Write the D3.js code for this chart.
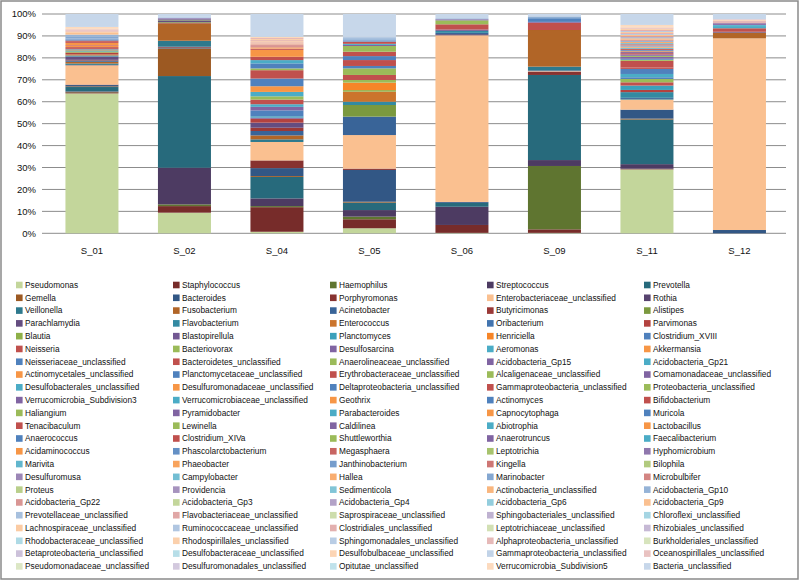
<!DOCTYPE html>
<html><head><meta charset="utf-8">
<script src="https://cdn.jsdelivr.net/npm/d3@7"></script>
<style>
body{margin:0;background:#fff}
svg{display:block}
text{font-family:"Liberation Sans",Arial,sans-serif;fill:#111}
</style>
</head><body>
<svg id="chart" width="800" height="581"></svg>
<script>
const categories = ["S_01","S_02","S_04","S_05","S_06","S_09","S_11","S_12"];

const seriesNames = [
"Pseudomonas","Staphylococcus","Haemophilus","Streptococcus","Prevotella",
"Gemella","Bacteroides","Porphyromonas","Enterobacteriaceae_unclassified","Rothia",
"Veillonella","Fusobacterium","Acinetobacter","Butyricimonas","Alistipes",
"Parachlamydia","Flavobacterium","Enterococcus","Oribacterium","Parvimonas",
"Blautia","Blastopirellula","Planctomyces","Henriciella","Clostridium_XVIII",
"Neisseria","Bacteriovorax","Desulfosarcina","Aeromonas","Akkermansia",
"Neisseriaceae_unclassified","Bacteroidetes_unclassified","Anaerolineaceae_unclassified","Acidobacteria_Gp15","Acidobacteria_Gp21",
"Actinomycetales_unclassified","Planctomycetaceae_unclassified","Erythrobacteraceae_unclassified","Alcaligenaceae_unclassified","Comamonadaceae_unclassified",
"Desulfobacterales_unclassified","Desulfuromonadaceae_unclassified","Deltaproteobacteria_unclassified","Gammaproteobacteria_unclassified","Proteobacteria_unclassified",
"Verrucomicrobia_Subdivision3","Verrucomicrobiaceae_unclassified","Geothrix","Actinomyces","Bifidobacterium",
"Haliangium","Pyramidobacter","Parabacteroides","Capnocytophaga","Muricola",
"Tenacibaculum","Lewinella","Caldilinea","Abiotrophia","Lactobacillus",
"Anaerococcus","Clostridium_XIVa","Shuttleworthia","Anaerotruncus","Faecalibacterium",
"Acidaminococcus","Phascolarctobacterium","Megasphaera","Leptotrichia","Hyphomicrobium",
"Marivita","Phaeobacter","Janthinobacterium","Kingella","Bilophila",
"Desulfuromusa","Campylobacter","Hallea","Marinobacter","Microbulbifer",
"Proteus","Providencia","Sedimenticola","Actinobacteria_unclassified","Acidobacteria_Gp10",
"Acidobacteria_Gp22","Acidobacteria_Gp3","Acidobacteria_Gp4","Acidobacteria_Gp6","Acidobacteria_Gp9",
"Prevotellaceae_unclassified","Flavobacteriaceae_unclassified","Saprospiraceae_unclassified","Sphingobacteriales_unclassified","Chloroflexi_unclassified",
"Lachnospiraceae_unclassified","Ruminococcaceae_unclassified","Clostridiales_unclassified","Leptotrichiaceae_unclassified","Rhizobiales_unclassified",
"Rhodobacteraceae_unclassified","Rhodospirillales_unclassified","Sphingomonadales_unclassified","Alphaproteobacteria_unclassified","Burkholderiales_unclassified",
"Betaproteobacteria_unclassified","Desulfobacteraceae_unclassified","Desulfobulbaceae_unclassified","Gammaproteobacteria_unclassified","Oceanospirillales_unclassified",
"Pseudomonadaceae_unclassified","Desulfuromonadales_unclassified","Opitutae_unclassified","Verrucomicrobia_Subdivision5","Bacteria_unclassified"
];

// relative abundance (%) per sample, one value per series in legend order
const S_01 = [
63.8,0.5,0.2,0.2,2.0,0.3,0.6,0.2,8.8,0.2,
0.6,0.8,0.6,0.3,0,1.5,0.5,0.5,0,0.8,
0.5,0,0.5,0.4,0.3,0.8,0,0,0,0.6,
0,0.3,0,0,0,1.0,0,0.4,0,0,
0,0,0,0.4,0,0,0,0,0,0.3,
0,0,0,0,0,0,0,0,0,0,
0.3,0,0,0,0,0,0.3,0,0,0,
0,0,0.3,0,0,0,0,0,0.8,0,
0,0,0,0,1.0,0,0,0,0,0.8,
0,0,0,0,0,0.6,0,0.5,0,0,
0,0,0,0.5,0,0,0,0.5,0,0,
0,0,0,0.6,5.9];
const S_02 = [
9.4,3.0,0.8,16.7,41.8,12.6,0.3,0.3,0,0.2,
2.7,7.9,0,0.3,0.3,0.8,0,0,0,0,
0.3,0.4,0,0,0,0,0,0.3,0,0,
0,0,0,0,0,0,0,0,0,0,
0,0,0,0,0,0,0,0,0,0,
0,0,0,0,0,0,0,0,0,0,
0,0,0,0,0,0,0,0,0,0,
0,0,0,0,0,0,0,0,0,0,
0,0,0,0,0,0,0,0,0,0,
0.3,0,0,0,0,0,0.3,0,0,0,
0,0,0.3,0,0,0,0,0,0,0,
0,0,0,0,1.0];
const S_04 = [
0.7,11.2,0.5,3.5,9.8,0.4,3.6,3.5,8.4,0,
1.2,1.8,2.0,1.5,0,2.3,0,0,0,1.8,
0,0.5,0.6,0,2.7,0,0,1.6,1.2,0,
0,2.1,1.5,0,2.0,2.6,3.5,3.8,0.8,0,
0,0,2.3,0,0,0,1.5,0,0,1.5,
0,0,0,3.1,0,0,0,0,0,0,
0,0,0,0,0,0,0,0.6,0,0,
0,0.6,0,0.5,0,0,0,0,0,0.5,
0,0,0,0,0,0.4,0,0,0,0.4,
0,0.5,0,0,0,0.5,0,0.5,0,0,
0,0.5,0,0.5,0,0,0,0.5,0,0,
0,0,0,0,10.4];
const S_05 = [
2.3,4.1,1.2,3.0,3.4,0.4,14.5,0.6,15.3,0,
0,0,8.4,0,5.3,0,1.5,4.6,0,0,
0.7,0,0,3.4,0,0,1.2,0,0,0,
0,2.3,3.0,0,0,0,1.1,2.7,0,0,
0,0,1.8,2.0,2.6,0.5,0.5,0,0,1.0,
0,0,0,0,0,0,0,0,0,0,
0,0,0,0,0,0,0.4,0,0,0,
0,0,0.4,0,0,0,0,0,0,0,
0,0,0,0,0.4,0,0,0,0,0,
0.5,0,0,0,0,0,0.5,0,0,0,
0,0,0,0,0,0,0,0,0,0,
0,0,0,0,10.4];
const S_06 = [
0.2,3.6,0,8.3,1.8,0,0.4,0,76.0,0.5,
0,0,0.6,0,0,0,0.9,0,0,0,
0,0.6,0,0,0,2.4,0,0,0,0,
0,0,1.8,0,0,0,0,0,0,0,
0,0,0,0,0,0,0,0,0,0,
0,0,0,0,0,0,0,0.5,0,0,
0,0,0,0,0,0,0,0,0,0,
0,0,0,0,0,0,0,0,0,0,
0,0,0,0,0,0,0,0,0,0,
0.5,0,0,0,0,0,0,0,0,0,
0,0,0,0,0,0,0,0,0,0,
0,0,0,0,1.9];
const S_09 = [
0.2,1.6,28.9,2.7,38.8,0,0,1.4,0.3,0.3,
1.8,16.7,0,0,0,0,0,0,0,0,
0,0,0,0,0,3.3,0,0.4,0,0,
1.6,0,0,0,0,0,0.5,0,0,0,
0,0,0,0,0,0,0,0,0,0,
0,0,0,0,0,0,0,0,0,0,
0,0,0,0,0,0,0,0,0,0,
0,0,0,0,0,0,0,0,0,0,
0,0,0,0,0,0,0,0,0,0,
0,0,0,0,0,0,0.5,0,0,0,
0,0,0,0,0,0,0,0,0,0,
0,0,0,0,1.0];
const S_11 = [
29.2,0.3,0,2.1,20.4,0.4,4.1,0,4.6,0,
0.3,0,0.5,0,0,0,2.6,0,0,1.0,
0,0,2.0,0,0,1.5,1.5,0,0,0,
0.8,0,0,0,1.5,0,2.3,0.6,0,0,
0,0,0,3.1,0.5,0,0,0,0.5,0,
0,0.8,0,0,0,0,0.5,0.6,0,0,
0,0.6,0,0.5,0,0.4,0.5,0.6,0,0,
0.5,0.5,0.5,0.6,0,0,0.5,0.6,0.5,0.5,
0,0,0,0.6,0.5,0.5,0,0,0,0.6,
0.4,0.4,0,0,0,0.5,0.4,0.5,0,0,
0,0.6,0,0.5,0,0,0,0.6,0,0,
0,0,0,0.6,5.0];
const S_12 = [
0,0,0,0,0,0,1.5,0,87.4,0,
0,2.6,0,0,0,0.4,0,0,0,0,
0,0,0,0,0,1.6,0,0,0.6,0,
0,0,0,0,0.5,0,0,0,0,0,
0.4,0,0,0,0,0,0,0,0,0,
0,0,0,0,0,0,0,0.4,0,0,
0,0,0,0.4,0,0,0,0,0,0,
0,0,0,0,0,0,0,0,0,0,
0,0,0,0,0,0,0,0,0,0,
0,0,0,0,0,0,0,0.5,0,0,
0,0,0,0.5,0,0,0,0.4,0,0.4,
0,0,0,0,2.4];

const sampleValues = [S_01,S_02,S_04,S_05,S_06,S_09,S_11,S_12];
const yTickValues = [0,0.1,0.2,0.3,0.4,0.5,0.6,0.7,0.8,0.9,1.0];

// ---- colours (Office-style accent cycle, shaded per group of six) ----
const accents = ["#4F81BD","#C0504D","#9BBB59","#8064A2","#4BACC6","#F79646"];
const tierLum = [[0.6,0],[0.68,0],[0.78,0],[0.9,0],[1,0],[1,0],[1,0],[1,0],[1,0],[1,0],
                 [1,0],[0.88,0.12],[0.78,0.22],[0.7,0.3],[0.6,0.4],[0.5,0.5],[0.45,0.55],[0.4,0.6],[0.35,0.65],[0.32,0.68]];
const overrideColors = {0:"#C3D69B", 8:"#FAC090"};
function seriesColor(i){
  if (overrideColors[i]) return overrideColors[i];
  const c = d3.hsl(accents[i % 6]);
  const tier = Math.floor(i / 6);
  const t = tierLum[tier];
  c.l = c.l * t[0] + t[1];
  if (i % 6 === 5 && tier < 3) c.s *= 0.7;   // dark oranges read as brown
  return c.formatHex();
}

const svg = d3.select("#chart");

// outer frame
svg.append("rect").attr("x",1).attr("y",1).attr("width",797).attr("height",578)
  .attr("fill","#fff").attr("stroke","#8a8a8a").attr("stroke-width",1.5);

const x = d3.scaleBand().domain(categories).range([45.7,785.7]).paddingInner(0.427).paddingOuter(0.2135);
const y = d3.scaleLinear().domain([0,1]).range([233.3,14]);

// gridlines
svg.append("g").selectAll("line").data(yTickValues).join("line")
  .attr("x1",42).attr("x2",786)
  .attr("y1",d=>y(d)).attr("y2",d=>y(d))
  .attr("stroke","#8c8c8c").attr("stroke-width",1);

// y tick labels
svg.append("g").selectAll("text").data(yTickValues).join("text")
  .attr("x",36).attr("y",d=>y(d)).attr("dy","0.35em")
  .attr("text-anchor","end").attr("font-size","9.5px")
  .text(d3.format(".0%"));

// stacked data
const n = seriesNames.length;
const table = categories.map((c,j)=>({category:c, values:sampleValues[j]}));
const stack = d3.stack().keys(d3.range(n)).value((d,k)=>d.values[k]).offset(d3.stackOffsetExpand);
const layers = stack(table);

svg.append("g").selectAll("g").data(layers).join("g")
  .attr("fill",(d,i)=>seriesColor(i))
  .selectAll("rect").data(d=>d).join("rect")
  .attr("x",d=>x(d.data.category))
  .attr("width",x.bandwidth())
  .attr("y",d=>y(d[1]))
  .attr("height",d=>Math.max(0,y(d[0])-y(d[1])));

// x axis labels
svg.append("g").selectAll("text").data(categories).join("text")
  .attr("x",d=>x(d)+x.bandwidth()/2).attr("y",251).attr("dy","0.35em")
  .attr("text-anchor","middle").attr("font-size","9.5px")
  .text(d=>d);

// legend
const lg = svg.append("g");
const items = lg.selectAll("g").data(seriesNames).join("g")
  .attr("transform",(d,i)=>`translate(${16 + (i%5)*157},${285 + Math.floor(i/5)*12.79})`);
items.append("rect").attr("x",0).attr("y",-3.3).attr("width",6.6).attr("height",6.6)
  .attr("fill",(d,i)=>seriesColor(i));
items.append("text").attr("x",9).attr("y",0).attr("dy","0.35em")
  .attr("font-size","8.3px").text(d=>d);
</script>
</body></html>
